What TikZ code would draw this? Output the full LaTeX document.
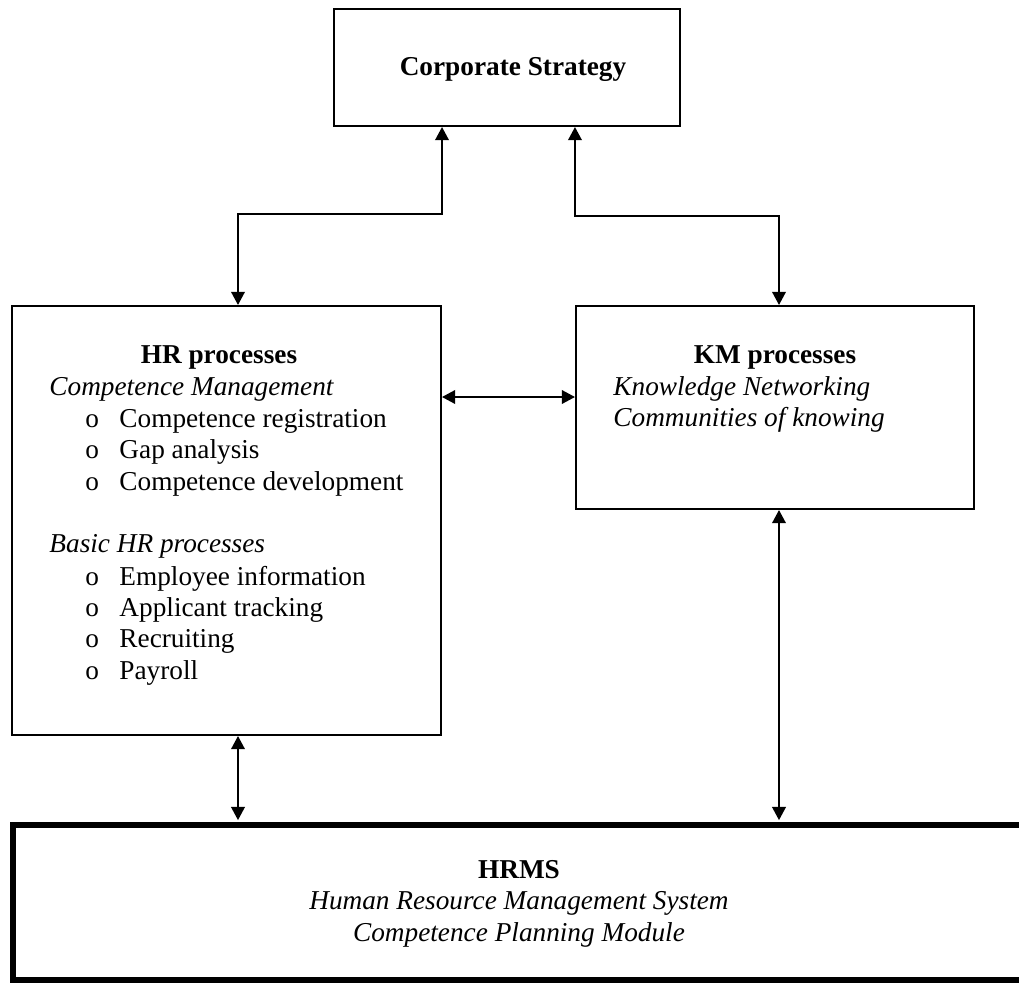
\documentclass[12pt,tikz,border=0pt]{standalone}
\usepackage{fontspec}
\setmainfont{Liberation Serif}
\usetikzlibrary{arrows.meta}
\usetikzlibrary{fit}
\usetikzlibrary{positioning}
\tikzset{box/.style = {draw, line width = 0.9pt, inner sep = 0, fit = {#1}}}
\tikzset{dbl/.style = {{Triangle[length = 5.8pt, width = 6pt]}-{Triangle[length = 5.8pt, width = 6pt]}, line width = 0.8pt}}
\tikzset{txt/.style = {inner sep = 0, anchor = base west}}
\tikzset{ctr/.style = {inner sep = 0, anchor = base}}

\begin{document}
\begin{tikzpicture}[x = 0.44pt, y = -0.44pt]
      \useasboundingbox (0, 0) rectangle (1019, 983);
      \clip (0, 0) rectangle (1019, 983);
      % boxes
      \node [box = {(334, 9) (680, 126)}] (corp) {};
      \node [box = {(12, 306) (441, 735)}] (hr) {};
      \node [box = {(576, 306) (974, 509)}] (km) {};
      \node [box = {(13, 825) (1030, 980)}, line width = 2.3pt] (hrms) {};
      % texts
      \node [ctr, font = \bfseries] (corplabel) at (513, 75) {Corporate Strategy};
      \node [ctr, font = \bfseries] (hrlabel) at (219, 363) {HR processes};
      \node [txt, font = \itshape] (cm) at (49, 395) {Competence Management};
      \foreach \entry [count = \i] in {Competence registration, Gap analysis, Competence development} {
        \node [txt] (cmo\i) at (85, 427 + 31.5*\i - 31.5) {o};
        \node [txt] (cm\i) at (119, 427 + 31.5*\i - 31.5) {\entry};
      }
      \node [txt, font = \itshape] (basic) at (49, 552) {Basic HR processes};
      \foreach \entry [count = \i] in {Employee information, Applicant tracking, Recruiting, Payroll} {
        \node [txt] (bo\i) at (85, 585 + 31.4*\i - 31.4) {o};
        \node [txt] (b\i) at (119, 585 + 31.4*\i - 31.4) {\entry};
      }
      \node [ctr, font = \bfseries] (kmlabel) at (775, 363) {KM processes};
      \node [txt, font = \itshape] (kn) at (613, 395) {Knowledge Networking};
      \node [txt, font = \itshape] (ck) at (613, 426) {Communities of knowing};
      \node [ctr, font = \bfseries] (hrmslabel) at (519, 878) {HRMS};
      \node [ctr, font = \itshape] (hrmsa) at (519, 909) {Human Resource Management System};
      \node [ctr, font = \itshape] (hrmsb) at (519, 941) {Competence Planning Module};
      % connectors
      \coordinate (bendL) at (238, 214);
      \coordinate (bendR) at (779, 216);
      \coordinate (link) at (508, 397);
      \draw [dbl] (corp.south -| hr.east) |- (bendL) -- (bendL |- hr.north);
      \draw [dbl] (corp.south -| km.west) |- (bendR) -- (bendR |- km.north);
      \draw [dbl] (link -| hr.east) -- (link -| km.west);
      \draw [dbl, shorten > = 1pt] (hr.south -| bendL) -- (bendL |- hrms.north);
      \draw [dbl, shorten > = 1pt] (km.south -| bendR) -- (bendR |- hrms.north);
    \end{tikzpicture}
\end{document}
